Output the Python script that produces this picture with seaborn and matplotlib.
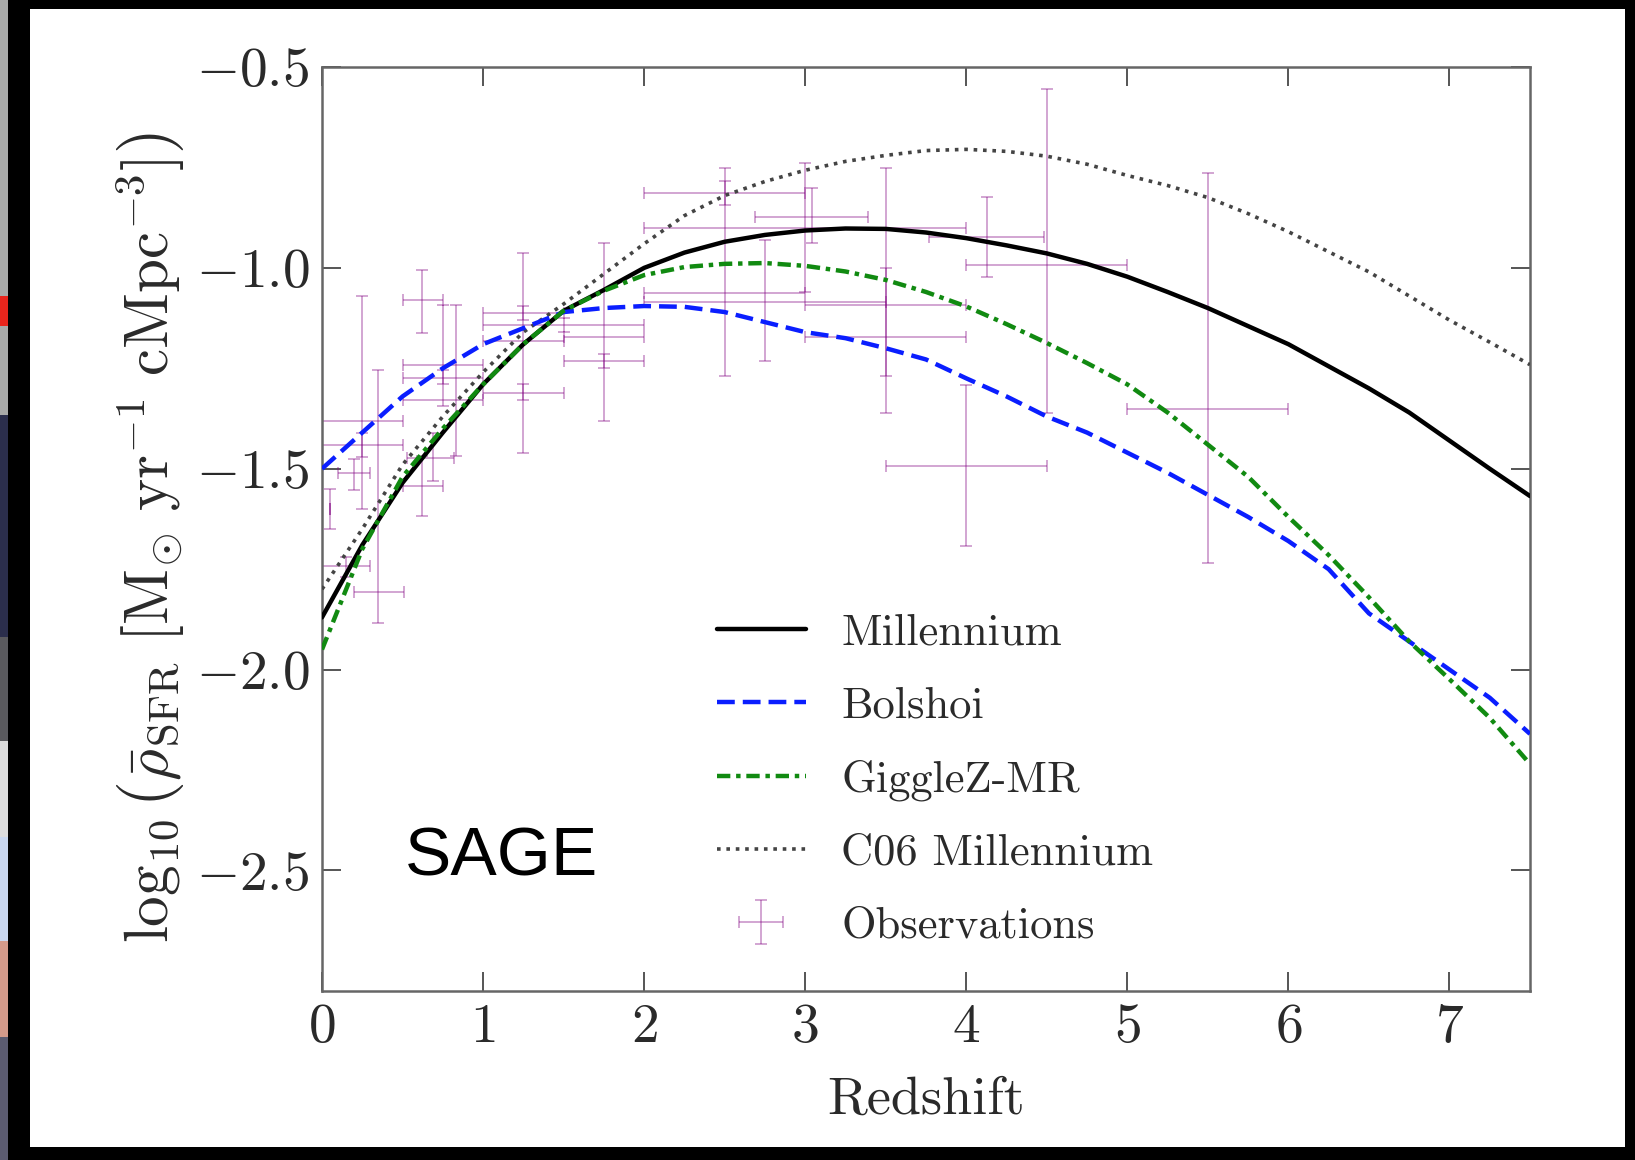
import numpy as np
import pandas as pd
import matplotlib
matplotlib.use("Agg")
import matplotlib.pyplot as plt
import seaborn as sns
from matplotlib.patches import Rectangle

# ---------------- data ----------------
redshift = [0.0, 0.25, 0.5, 0.75, 1.0, 1.25, 1.5, 1.75, 2.0, 2.25, 2.5, 2.75, 3.0,
            3.25, 3.5, 3.75, 4.0, 4.25, 4.5, 4.75, 5.0, 5.25, 5.5, 5.75, 6.0,
            6.25, 6.5, 6.75, 7.0, 7.25, 7.5]
millennium = [-1.87, -1.69, -1.535, -1.41, -1.29, -1.19, -1.107, -1.055, -1.00, -0.962,
              -0.935, -0.918, -0.907, -0.902, -0.903, -0.912, -0.926, -0.944, -0.964,
              -0.99, -1.022, -1.06, -1.10, -1.145, -1.19, -1.245, -1.30, -1.36, -1.43,
              -1.50, -1.568]
bolshoi = [-1.50, -1.41, -1.32, -1.25, -1.19, -1.15, -1.11, -1.10, -1.095, -1.097,
           -1.11, -1.135, -1.16, -1.175, -1.20, -1.228, -1.275, -1.32, -1.37, -1.41,
           -1.46, -1.51, -1.565, -1.62, -1.68, -1.75, -1.86, -1.93, -2.00, -2.07, -2.16]
gigglez = [-1.95, -1.70, -1.52, -1.40, -1.29, -1.19, -1.107, -1.057, -1.018, -0.998,
           -0.99, -0.988, -0.995, -1.009, -1.03, -1.06, -1.096, -1.14, -1.187, -1.237,
           -1.29, -1.36, -1.44, -1.52, -1.62, -1.715, -1.82, -1.93, -2.024, -2.12, -2.235]
c06_millennium = [-1.80, -1.65, -1.49, -1.37, -1.26, -1.16, -1.09, -1.015, -0.94, -0.87,
                  -0.82, -0.785, -0.757, -0.735, -0.72, -0.708, -0.705, -0.71, -0.722,
                  -0.742, -0.77, -0.795, -0.825, -0.865, -0.91, -0.96, -1.01, -1.07,
                  -1.13, -1.185, -1.241]

# observations: centre, x-range and y-range (lower / upper bound values)
obs_z    = [0.05, 0.15, 0.20, 0.25, 0.25, 0.35, 0.62, 0.62, 0.69, 0.75, 0.75, 0.83,
            1.25, 1.25, 1.25, 1.50, 1.75, 1.75, 2.50, 2.50, 2.75, 3.00, 3.04, 3.50,
            3.50, 4.13, 4.50, 4.00, 5.50]
obs_y    = [-1.60, -1.742, -1.51, -1.382, -1.44, -1.808, -1.081, -1.543, -1.473, -1.241,
            -1.273, -1.33, -1.113, -1.183, -1.311, -1.142, -1.171, -1.233, -0.813, -1.063,
            -1.084, -0.902, -0.873, -1.092, -1.171, -0.922, -0.993, -1.494, -1.351]
obs_z_lo = [0.05, 0.00, 0.10, 0.00, 0.00, 0.20, 0.50, 0.50, 0.53, 0.50, 0.50, 0.50,
            1.00, 1.00, 1.00, 1.00, 1.50, 1.50, 2.00, 2.00, 2.00, 2.00, 2.69, 3.00,
            3.00, 3.77, 4.00, 3.50, 5.00]
obs_z_hi = [0.05, 0.30, 0.30, 0.50, 0.50, 0.51, 0.75, 0.75, 0.82, 1.00, 1.00, 1.00,
            1.50, 1.50, 1.50, 2.00, 2.00, 2.00, 3.00, 3.00, 3.50, 4.00, 3.39, 4.00,
            4.00, 4.48, 5.00, 4.50, 6.00]
obs_y_lo = [-1.65, -1.77, -1.552, -1.60, -1.47, -1.883, -1.161, -1.618, -1.531, -1.345,
            -1.29, -1.469, -1.13, -1.462, -1.33, -1.16, -1.382, -1.25, -0.843, -1.27,
            -1.233, -1.059, -0.939, -1.27, -1.361, -1.022, -1.361, -1.693, -1.734]
obs_y_hi = [-1.55, -1.72, -1.477, -1.071, -1.41, -1.254, -1.005, -1.469, -1.411, -1.092,
            -1.255, -1.092, -1.095, -0.964, -1.29, -1.125, -0.939, -1.215, -0.783, -0.752,
            -0.93, -0.74, -0.802, -0.752, -1.00, -0.823, -0.554, -1.291, -0.765]

x_ticks = [0, 1, 2, 3, 4, 5, 6, 7]
y_ticks = [-2.5, -2.0, -1.5, -1.0, -0.5]

# ---------------- style ----------------
sns.set_theme(style="ticks")
plt.rcParams.update({
    "font.family": ["cmr10", "DejaVu Serif"],
    "mathtext.fontset": "cm",
    "axes.formatter.use_mathtext": True,
    "axes.unicode_minus": True,
})

W, H = 1635, 1160
fig = plt.figure(figsize=(W / 100, H / 100), dpi=100, facecolor="black")

# screenshot frame: white page on black, with a strip of another window on the left
fig.patches.append(Rectangle((30 / W, 1 - 1147 / H), (1625 - 30) / W, (1147 - 9) / H,
                             transform=fig.transFigure, facecolor="white",
                             edgecolor="none", zorder=-1))
strip = [(0, 415, "#a8a9a8"), (296, 326, "#e8251c"), (415, 637, "#2b2e4c"),
         (637, 741, "#5a5a5e"), (741, 837, "#dcdcdc"), (837, 941, "#c9d7ef"),
         (941, 1037, "#d49a8a"), (1037, 1160, "#5b5b70")]
for y0, y1, c in strip:
    fig.patches.append(Rectangle((0, 1 - y1 / H), 8 / W, (y1 - y0) / H,
                                 transform=fig.transFigure, facecolor=c,
                                 edgecolor="none", zorder=-0.5))

ax = fig.add_axes([322 / W, 1 - 991 / H, (1530 - 322) / W, (991 - 67) / H])
ax.set_facecolor("white")

df = pd.DataFrame({"z": redshift, "Millennium": millennium, "Bolshoi": bolshoi,
                   "GiggleZ-MR": gigglez, "C06 Millennium": c06_millennium})

# observations (drawn underneath)
z = np.array(obs_z); y = np.array(obs_y)
xerr = [z - np.array(obs_z_lo), np.array(obs_z_hi) - z]
yerr = [y - np.array(obs_y_lo), np.array(obs_y_hi) - y]
ax.errorbar(z, y, xerr=xerr, yerr=yerr, fmt="none", ecolor="purple", alpha=0.38,
            elinewidth=1.3, capsize=4.5, capthick=1.3, label="Observations", zorder=2)

sns.lineplot(data=df, x="z", y="Millennium", ax=ax, color="black", linewidth=3.2,
             label="Millennium", zorder=5)
sns.lineplot(data=df, x="z", y="Bolshoi", ax=ax, color="#0a1eff", linewidth=3.2,
             linestyle=(0, (4.0, 1.8)), label="Bolshoi", zorder=5)
sns.lineplot(data=df, x="z", y="GiggleZ-MR", ax=ax, color="#118a11", linewidth=3.2,
             linestyle=(0, (3.0, 1.3, 1.0, 1.3)), label="GiggleZ-MR", zorder=5)
sns.lineplot(data=df, x="z", y="C06 Millennium", ax=ax, color="#444444", linewidth=2.6,
             linestyle=(0, (1.0, 1.6)), label="C06 Millennium", zorder=4)

ax.set_xlim(0, 7.5)
ax.set_ylim(-2.8, -0.5)
ax.set_xticks(x_ticks)
ax.set_yticks(y_ticks)
ax.tick_params(direction="in", length=14, width=1.4, top=True, right=True,
               labelsize=40, pad=9, color="#555555", labelcolor="#2a2a2a")
for s in ax.spines.values():
    s.set_color("#666666")
    s.set_linewidth(1.8)

ax.set_xlabel("Redshift", fontsize=39, color="#2a2a2a", labelpad=17)
ax.set_ylabel(r"$\log_{10}\left(\bar{\rho}_{\mathrm{SFR}}\ [\mathrm{M}_{\odot}\ "
              r"\mathrm{yr}^{-1}\ \mathrm{cMpc}^{-3}]\right)$",
              fontsize=44, color="#2a2a2a")
ax.yaxis.set_label_coords(-0.112, 0.491)

handles, labels = ax.get_legend_handles_labels()
order = ["Millennium", "Bolshoi", "GiggleZ-MR", "C06 Millennium", "Observations"]
hmap = dict(zip(labels, handles))
leg = ax.legend([hmap[k] for k in order], order, loc="upper left",
                bbox_to_anchor=(0.312, 0.428), borderaxespad=0, frameon=False,
                fontsize=32, labelspacing=0.74, handlelength=2.0, handletextpad=0.8)
for t in leg.get_texts():
    t.set_color("#2a2a2a")

fig.text(501 / W, 1 - 857 / H, "SAGE", family="Liberation Sans", fontsize=50,
         ha="center", va="center", color="black")

fig.savefig("out.png", dpi=100, facecolor=fig.get_facecolor())
